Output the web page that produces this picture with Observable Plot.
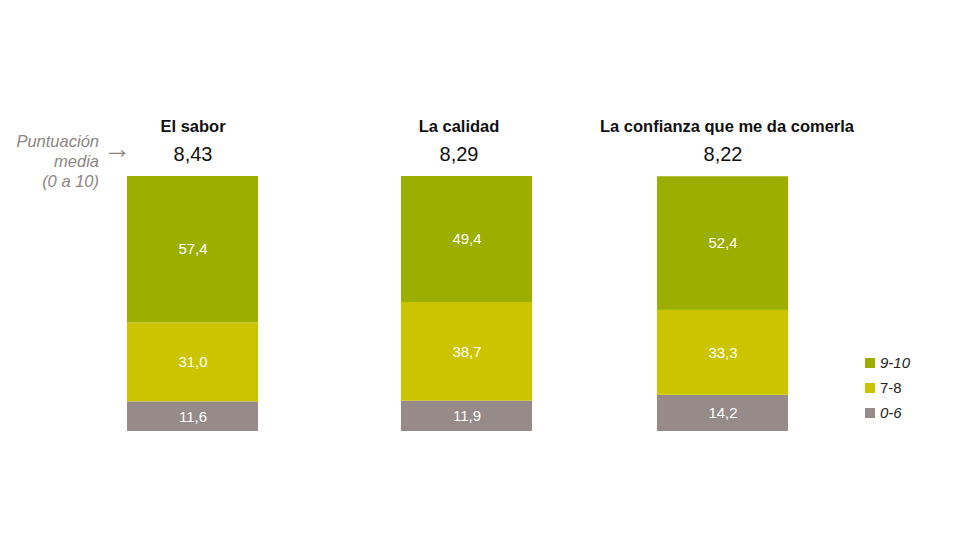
<!DOCTYPE html>
<html>
<head>
<meta charset="utf-8">
<script src="https://cdn.jsdelivr.net/npm/d3@7"></script>
<script src="https://cdn.jsdelivr.net/npm/@observablehq/plot@0.6"></script>
<style>
  html, body { margin: 0; padding: 0; background: #fff; }
  #wrap { position: relative; width: 980px; height: 560px; font-family: "Liberation Sans", Arial, sans-serif; }
  #note { position: absolute; right: 881px; top: 131px; text-align: right; font-style: italic; color: #8c8580; font-size: 16.5px; line-height: 20px; }
  #arrow { position: absolute; left: 103px; top: 134px; color: #8c8580; font-size: 28px; line-height: 30px; }
  #legend { position: absolute; left: 865px; top: 350px; font-size: 15px; color: #222; }
  .li { display: flex; align-items: center; height: 25px; }
  .sw { width: 10px; height: 10px; margin-right: 5px; }
</style>
</head>
<body>
<div id="wrap">
  <div id="chart"></div>
  <div id="note">Puntuación<br>media<br>(0 a 10)</div>
  <div id="arrow">→</div>
  <div id="legend"></div>
</div>
<script>
const categories = ["El sabor", "La calidad", "La confianza que me da comerla"];
const scores = [8.43, 8.29, 8.22];
const bands = ["0-6", "7-8", "9-10"];
const values06 = [11.6, 11.9, 14.2];
const values78 = [31.0, 38.7, 33.3];
const values910 = [57.4, 49.4, 52.4];
const colors = ["#968b88", "#cdc400", "#9cae00"];
const legendOrder = ["9-10", "7-8", "0-6"];

const fmt = (v, d) => v.toFixed(d).replace(".", ",");

const rows = [];
categories.forEach((c, i) => {
  rows.push({cat: c, band: bands[0], value: values06[i]});
  rows.push({cat: c, band: bands[1], value: values78[i]});
  rows.push({cat: c, band: bands[2], value: values910[i]});
});
const scoreRows = categories.map((c, i) => ({cat: c, score: scores[i]}));

// small horizontal nudges per column (layout, not data)
const barNudge = [0, 9, 0];
const titleNudge = [0, 1, 4];
const scoreNudge = [0, 1, 0];

const marks = [];
categories.forEach((c, i) => {
  const r = rows.filter(d => d.cat === c);
  const s = scoreRows.filter(d => d.cat === c);
  const dx = barNudge[i];
  marks.push(
    Plot.barY(r, Plot.stackY({x: "cat", y: "value", fill: "band", dx})),
    Plot.text(r, Plot.stackY({x: "cat", y: "value", text: d => fmt(d.value, 1), fill: "white", fontSize: 15, dx})),
    Plot.text(s, {x: "cat", text: "cat", frameAnchor: "top", dy: 120, dx: titleNudge[i], fontSize: 16.5, fontWeight: "bold", fill: "#111"}),
    Plot.text(s, {x: "cat", text: d => fmt(d.score, 2), frameAnchor: "top", dy: 146, dx: scoreNudge[i], fontSize: 20, fill: "#111"})
  );
});

const chart = Plot.plot({
  width: 980,
  height: 560,
  marginTop: 0, marginBottom: 0, marginLeft: 0, marginRight: 0,
  style: {fontFamily: "'Liberation Sans', Arial, sans-serif", background: "transparent"},
  x: {domain: categories, range: [126, 788], paddingInner: 0.507, paddingOuter: 0, axis: null},
  y: {domain: [0, 100], range: [431, 176], axis: null},
  color: {domain: bands, range: colors},
  marks
});
document.getElementById("chart").appendChild(chart);

const leg = document.getElementById("legend");
legendOrder.forEach(b => {
  const i = bands.indexOf(b);
  const row = document.createElement("div");
  row.className = "li";
  const sw = document.createElement("div");
  sw.className = "sw";
  sw.style.background = colors[i];
  const t = document.createElement("span");
  t.textContent = b;
  if (b !== "7-8") t.style.fontStyle = "italic";
  row.appendChild(sw); row.appendChild(t);
  leg.appendChild(row);
});
</script>
</body>
</html>
